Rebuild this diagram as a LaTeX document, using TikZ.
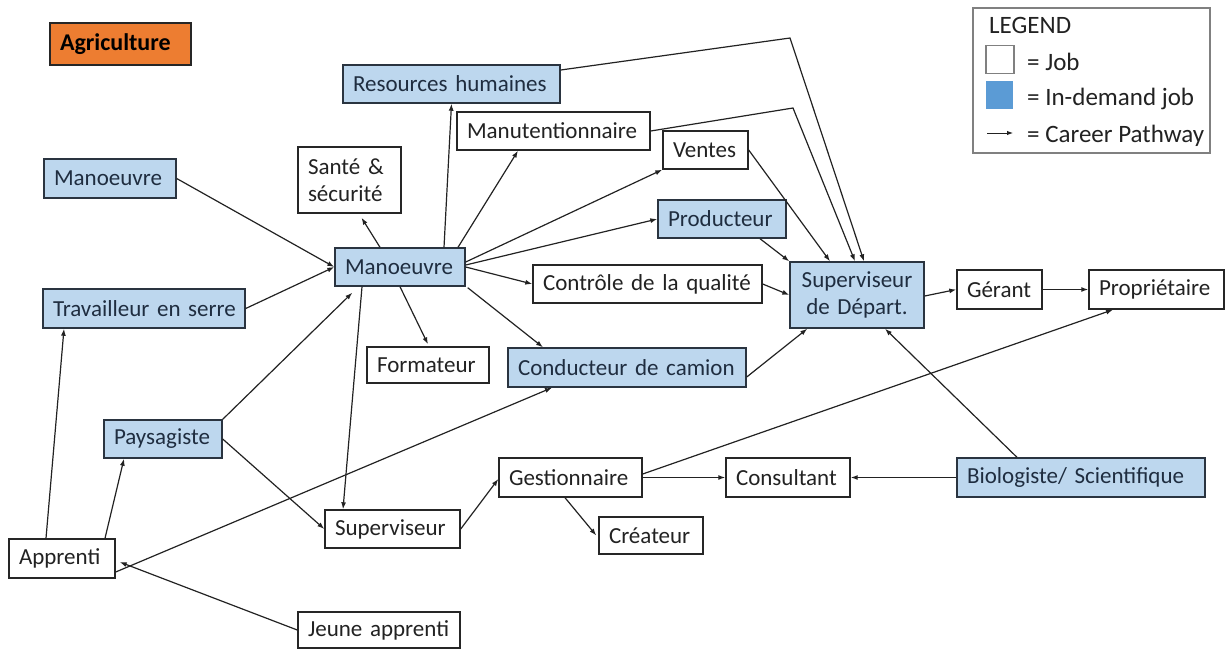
\documentclass[tikz,border=0pt]{standalone}
\usepackage{fontspec}
\setmainfont{Carlito}
\usetikzlibrary{arrows.meta,calc}
\definecolor{demand}{HTML}{BDD7EE}
\definecolor{demandline}{HTML}{2A3440}
\definecolor{demandtext}{HTML}{1F2D40}
\definecolor{boxline}{HTML}{262626}
\definecolor{textc}{HTML}{222222}
\definecolor{agrifill}{HTML}{ED7D31}
\definecolor{legline}{HTML}{808080}
\definecolor{legblue}{HTML}{5B9BD5}
\definecolor{linec}{HTML}{222222}
\tikzset{
  job/.style={draw=boxline, line width=1.4pt, fill=white, inner xsep=10pt, inner ysep=0pt,
    minimum height=38pt, align=left, text=textc, font=\fontsize{23}{27}\selectfont},
  demandjob/.style={job, fill=demand, draw=demandline, text=demandtext},
  path/.style={draw=linec, line width=1.2pt, -{Latex[length=7pt,width=5pt]}},
  plainline/.style={draw=linec, line width=1.2pt},
  legtext/.style={anchor=base west, inner sep=0pt, text=textc, font=\fontsize{25}{28}\selectfont}
}
\begin{document}
\begin{tikzpicture}[x=1pt,y=-1pt]
\useasboundingbox (0,0) rectangle (1225,649);

% title
\node[job, fill=agrifill, draw=boxline, text=black, text width=121pt, minimum height=42pt,
  font=\fontsize{24}{27}\selectfont\bfseries] (agri) at (120.5,44) {Agriculture};

% legend
\node[draw=legline, line width=1.4pt, fill=white, minimum width=237pt, minimum height=145pt, inner sep=0pt] (legend) at (1091.5,80.5) {};
\node[legtext] (legtitle) at (989,33) {LEGEND};
\node[draw=legline, line width=1.2pt, fill=white, minimum width=28pt, minimum height=28pt, inner sep=0pt] (legjob) at (1000,59.5) {};
\node[fill=legblue, minimum width=27pt, minimum height=28pt, inner sep=0pt] (legdem) at (999.5,95) {};
\coordinate (legA) at (987,133);
\coordinate (legB) at (1013,133);
\draw[plainline, line width=1pt, -{Latex[length=6pt,width=4.5pt]}] (legA) -- (legB);
\node[legtext] (legt1) at (1027,70) {= Job};
\node[legtext] (legt2) at (1027,105) {= In-demand job};
\node[legtext] (legt3) at (1027,142) {= Career Pathway};

% jobs
\node[demandjob, text width=197pt] (rh) at (451.5,84) {\mbox{Resources humaines}};
\node[job, text width=173pt] (manut) at (553.5,131) {Manutentionnaire};
\node[job, text width=65pt] (ventes) at (705.5,150) {Ventes};
\node[demandjob, text width=108pt] (prod) at (722,219) {Producteur};
\node[job, text width=83pt, minimum height=66pt] (sante) at (349.5,180) {Santé \&\\sécurité};
\node[demandjob, text width=112pt, minimum height=39pt] (manL) at (110,178.5) {Manoeuvre};
\node[demandjob, text width=110pt] (manC) at (400,267) {Manoeuvre};
\node[demandjob, text width=182pt, minimum height=39pt] (serre) at (144,308.5) {\mbox{Travailleur en serre}};
\node[job, text width=209pt] (qual) at (647.5,284) {\mbox{Contrôle de la qualité}};
\node[demandjob, text width=114pt, minimum height=66pt, align=center] (supD) at (857,295) {Superviseur\\de Départ.};
\node[job, text width=65pt, minimum height=39pt] (gerant) at (999.5,289.5) {Gérant};
\node[job, text width=115pt, minimum height=39pt] (prop) at (1156.5,289.5) {Propriétaire};
\node[job, text width=102pt, minimum height=36pt] (form) at (428,365) {Formateur};
\node[demandjob, text width=218pt, minimum height=39pt] (cond) at (627,367.5) {\mbox{Conducteur de camion}};
\node[demandjob, text width=98pt] (pays) at (163,439) {Paysagiste};
\node[job, text width=123pt, minimum height=39pt] (gest) at (570.5,477.5) {Gestionnaire};
\node[job, text width=104pt, minimum height=39pt] (consult) at (788,477.5) {Consultant};
\node[demandjob, text width=228pt, minimum height=39pt] (bio) at (1081,477.5) {\mbox{Biologiste/ Scientifique}};
\node[job, text width=115pt] (sup) at (392.5,529) {Superviseur};
\node[job, text width=84pt, minimum height=37pt] (createur) at (651,535.5) {Créateur};
\node[job, text width=86pt, minimum height=39pt] (appr) at (62,558.5) {Apprenti};
\node[job, text width=142pt, minimum height=36pt] (jeune) at (379,630) {\mbox{Jeune apprenti}};

% bend points
\coordinate (bendA) at (790,38);
\coordinate (bendB) at (793,108);

% connectors
\draw[path] (manL.east) -- (manC.west);
\draw[path] (serre.east) -- (manC.west);
\draw[path] (pays.north east) -- ([xshift=18pt,yshift=-6pt]manC.south west);
\draw[path] ([xshift=-20pt]manC.north) -- ([xshift=12pt,yshift=-4pt]sante.south);
\draw[path] ([xshift=44pt]manC.north) -- (rh.south);
\draw[path] ([xshift=58pt]manC.north) -- ([xshift=-35.5pt]manut.south);
\draw[path] ([yshift=5pt]manC.east) -- (ventes.south west);
\draw[path] ([yshift=2pt]manC.east) -- (prod.west);
\draw[path] (manC.east) -- (qual.west);
\draw[path] (manC.south) -- ([yshift=2pt]form.north);
\draw[path] ([xshift=2pt,yshift=-1pt]manC.south east) -- ([xshift=-84pt]cond.north);
\draw[path] ([xshift=-38pt]manC.south) -- ([xshift=-49.5pt]sup.north);

\draw[path] ([yshift=14pt]rh.east) -- (bendA) -- ([xshift=7pt]supD.north);
\draw[path] (manut.east) -- (bendB) -- ([xshift=-2pt]supD.north);
\draw[path] (ventes.east) -- ([xshift=-27pt]supD.north);
\draw[path] ([xshift=38pt]prod.south) -- (supD.north west);
\draw[path] (qual.east) -- (supD.west);
\draw[path] ([yshift=-9.5pt]cond.east) -- ([xshift=18pt]supD.south west);
\draw[path] ([yshift=-1pt]supD.east) -- (gerant.west);
\draw[path] (gerant.east) -- (prop.west);
\draw[path] ([xshift=-64pt]bio.north) -- ([xshift=28pt]supD.south);
\draw[path] (bio.west) -- (consult.east);
\draw[path] (gest.east) -- (consult.west);
\draw[path] ([yshift=3.5pt]gest.east) -- ([xshift=-43.5pt]prop.south);
\draw[path] ([xshift=-5.5pt]gest.south) -- ([xshift=-2pt]createur.west);
\draw[path] (sup.east) -- ([yshift=-1.5pt]gest.west);
\draw[path] (pays.east) -- (sup.west);
\draw[path] ([xshift=43pt]appr.north) -- ([xshift=-39pt]pays.south);
\draw[path] ([xshift=-16pt]appr.north) -- ([xshift=-80pt]serre.south);
\draw[path] ([yshift=-13.5pt]appr.east) -- ([xshift=-75pt]cond.south);
\draw[path] (jeune.west) -- ([xshift=4pt,yshift=-3.5pt]appr.east);
\end{tikzpicture}
\end{document}
